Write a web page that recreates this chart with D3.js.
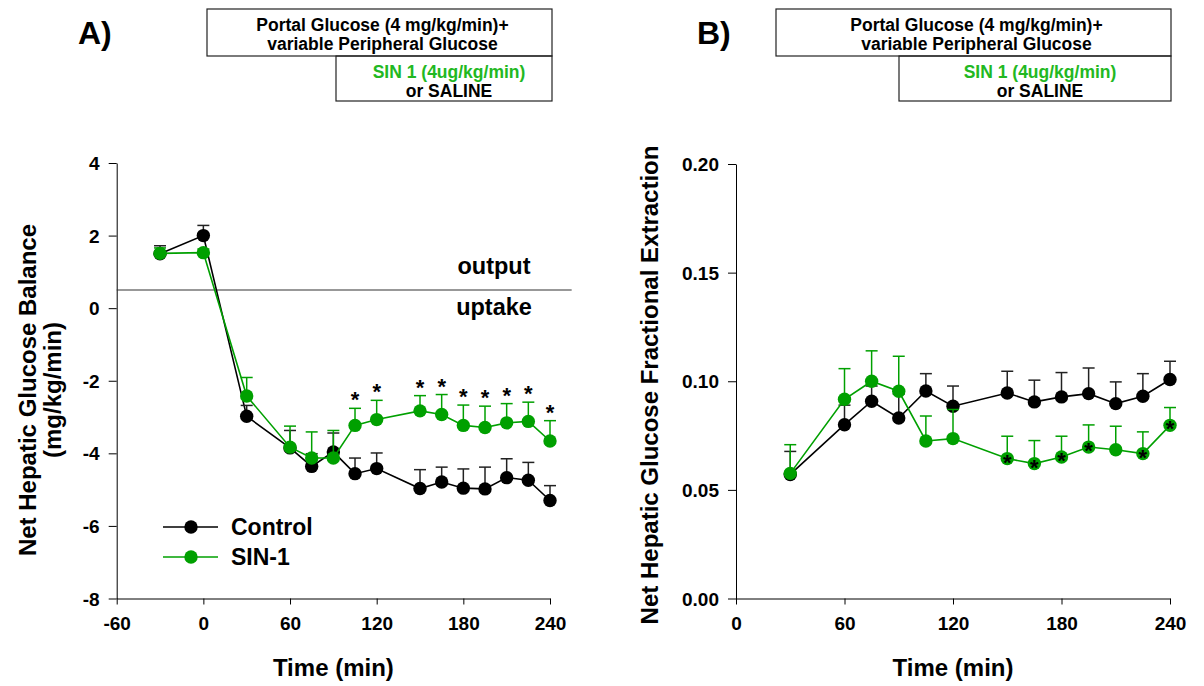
<!DOCTYPE html>
<html>
<head>
<meta charset="utf-8">
<script src="https://cdn.jsdelivr.net/npm/d3@7"></script>
<style>
  html, body { margin: 0; padding: 0; background: #fff; }
  svg { display: block; font-family: "Liberation Sans", Arial, Helvetica, sans-serif; }
  .tick text { font-size: 19px; font-weight: bold; fill: #000; font-family: "Liberation Sans", Arial, Helvetica, sans-serif; }
  .domain, .tick line { stroke: #000; stroke-width: 1; }
</style>
</head>
<body>
<svg id="chart" width="1204" height="686"></svg>
<script>
// Panel A: net hepatic glucose balance (mg/kg/min)
const timeA = [-30, 0, 30, 60, 75, 90, 105, 120, 150, 165, 180, 195, 210, 225, 240];
const controlA = [1.50, 2.00, -2.98, -3.85, -4.36, -3.96, -4.56, -4.42, -4.97, -4.79, -4.96, -4.98, -4.67, -4.74, -5.30];
const controlAErr = [0.22, 0.28, 0.30, 0.48, 0.35, 0.52, 0.43, 0.43, 0.52, 0.41, 0.53, 0.60, 0.52, 0.49, 0.41];
const sinA = [1.51, 1.53, -2.42, -3.83, -4.13, -4.13, -3.23, -3.07, -2.83, -2.93, -3.23, -3.29, -3.16, -3.12, -3.66];
const sinAErr = [0.15, 0.10, 0.51, 0.58, 0.72, 0.76, 0.47, 0.53, 0.42, 0.55, 0.56, 0.59, 0.53, 0.53, 0.56];
const sigA = [105, 120, 150, 165, 180, 195, 210, 225, 240];
const ticksAX = [-60, 0, 60, 120, 180, 240];
const ticksAY = [-8, -6, -4, -2, 0, 2, 4];
const balanceLine = 0.5;          // output / uptake divider
const balanceLineEnd = 255;       // time where the divider stops

// Panel B: net hepatic glucose fractional extraction
const timeB = [30, 60, 75, 90, 105, 120, 150, 165, 180, 195, 210, 225, 240];
const controlB = [0.0571, 0.0800, 0.0908, 0.0831, 0.0955, 0.0885, 0.0946, 0.0905, 0.0928, 0.0943, 0.0897, 0.0931, 0.1008];
const controlBErr = [0.0106, 0.0090, 0.0070, 0.0110, 0.0080, 0.0093, 0.0100, 0.0100, 0.0112, 0.0118, 0.0100, 0.0104, 0.0084];
const sinB = [0.0576, 0.0917, 0.1000, 0.0954, 0.0725, 0.0736, 0.0644, 0.0621, 0.0651, 0.0697, 0.0685, 0.0667, 0.0797];
const sinBErr = [0.0132, 0.0141, 0.0140, 0.0161, 0.0115, 0.0134, 0.0103, 0.0106, 0.0096, 0.0102, 0.0108, 0.0100, 0.0082];
const sigB = [150, 165, 180, 195, 225, 240];
const ticksBX = [0, 60, 120, 180, 240];
const ticksBY = [0, 0.05, 0.10, 0.15, 0.20];

const seriesNames = ["Control", "SIN-1"];
const BLACK = "#000";
const GREEN = "#00a000";
const TEXT_GREEN = "#22b822";
const TITLE_SIZE = 24;

const svg = d3.select("#chart");
const R = 6.7, CAP = 6;

// plain hyphen for negatives
const intFmt = d => String(d);
const decFmt = d => d.toFixed(2);

function drawSeries(g, x, y, times, vals, errs, color) {
  const pts = times.map((t, i) => ({ t, v: vals[i], e: errs[i] }));
  g.append("path")
    .datum(pts)
    .attr("fill", "none")
    .attr("stroke", color)
    .attr("stroke-width", 1.6)
    .attr("d", d3.line().x(d => x(d.t)).y(d => y(d.v)));
  const eb = g.append("g").attr("stroke", color === BLACK ? "#222" : color).attr("stroke-width", 1.5);
  eb.selectAll(".v").data(pts).join("line")
    .attr("x1", d => x(d.t)).attr("x2", d => x(d.t))
    .attr("y1", d => y(d.v)).attr("y2", d => y(d.v + d.e));
  eb.selectAll(".c").data(pts).join("line")
    .attr("x1", d => x(d.t) - CAP).attr("x2", d => x(d.t) + CAP)
    .attr("y1", d => y(d.v + d.e)).attr("y2", d => y(d.v + d.e));
  g.selectAll(null).data(pts).join("circle")
    .attr("cx", d => x(d.t)).attr("cy", d => y(d.v))
    .attr("r", R).attr("fill", color);
}

function drawAxes(x, y, xt, yt, yfmt) {
  const bottom = y.range()[0];
  svg.append("g")
    .attr("transform", `translate(0,${bottom})`)
    .call(d3.axisBottom(x).tickValues(xt).tickSize(6).tickSizeOuter(0).tickPadding(12).tickFormat(intFmt));
  svg.append("g")
    .attr("transform", `translate(${x.range()[0]},0)`)
    .call(d3.axisLeft(y).tickValues(yt).tickSize(8).tickSizeOuter(0).tickPadding(9).tickFormat(yfmt))
    .selectAll(".tick text").attr("dy", "0.35em");
}

function drawBoxes(topBox, lowBox) {
  svg.append("rect").attr("x", topBox[0]).attr("y", topBox[1])
    .attr("width", topBox[2] - topBox[0]).attr("height", topBox[3] - topBox[1])
    .attr("fill", "none").attr("stroke", "#222").attr("stroke-width", 1.2);
  svg.append("rect").attr("x", lowBox[0]).attr("y", lowBox[1])
    .attr("width", lowBox[2] - lowBox[0]).attr("height", lowBox[3] - lowBox[1])
    .attr("fill", "none").attr("stroke", "#222").attr("stroke-width", 1.2);
  const tc = (topBox[0] + topBox[2]) / 2 + 3;
  const lc = (lowBox[0] + lowBox[2]) / 2 + 5;
  const t = svg.append("g").attr("font-size", 17.5).attr("font-weight", "bold").attr("text-anchor", "middle");
  t.append("text").attr("x", tc).attr("y", topBox[1] + 22).text("Portal Glucose (4 mg/kg/min)+");
  t.append("text").attr("x", tc).attr("y", topBox[1] + 41).text("variable Peripheral Glucose");
  t.append("text").attr("x", lc).attr("y", lowBox[1] + 22).attr("fill", TEXT_GREEN).text("SIN 1 (4ug/kg/min)");
  t.append("text").attr("x", lc).attr("y", lowBox[1] + 41).text("or SALINE");
}

function stars(g, x, yPos, times) {
  g.selectAll(null).data(times).join("text")
    .attr("x", t => x(t)).attr("y", t => yPos(t))
    .attr("text-anchor", "middle").attr("font-size", 22).attr("font-weight", "bold")
    .text("*");
}

function title(x, y, rot, text) {
  svg.append("text")
    .attr("transform", `translate(${x},${y})` + (rot ? " rotate(-90)" : ""))
    .attr("text-anchor", "middle")
    .attr("font-size", TITLE_SIZE).attr("font-weight", "bold").text(text);
}

// ---------- Panel A ----------
const xA = d3.scaleLinear().domain([-60, 240]).range([116.7, 550]);
const yA = d3.scaleLinear().domain([-8, 4]).range([598.5, 163]);
drawAxes(xA, yA, ticksAX, ticksAY, intFmt);

svg.append("line")
  .attr("x1", xA(-60)).attr("x2", xA(balanceLineEnd))
  .attr("y1", yA(balanceLine)).attr("y2", yA(balanceLine))
  .attr("stroke", "#333").attr("stroke-width", 1.2);
svg.append("text").attr("x", 494).attr("y", yA(balanceLine) - 16).attr("text-anchor", "middle")
  .attr("font-size", 23.5).attr("font-weight", "bold").text("output");
svg.append("text").attr("x", 494).attr("y", yA(balanceLine) + 25).attr("text-anchor", "middle")
  .attr("font-size", 23.5).attr("font-weight", "bold").text("uptake");

const gA = svg.append("g");
drawSeries(gA, xA, yA, timeA, controlA, controlAErr, BLACK);
drawSeries(gA, xA, yA, timeA, sinA, sinAErr, GREEN);
stars(gA, xA, t => { const i = timeA.indexOf(t); return yA(sinA[i] + sinAErr[i]) - 1; }, sigA);

// legend
const leg = svg.append("g");
seriesNames.forEach((name, i) => {
  const yy = 527 + i * 30;
  const c = i === 0 ? BLACK : GREEN;
  leg.append("line").attr("x1", 163).attr("x2", 218).attr("y1", yy).attr("y2", yy)
    .attr("stroke", c).attr("stroke-width", 1.6);
  leg.append("circle").attr("cx", 191).attr("cy", yy).attr("r", R).attr("fill", c);
  leg.append("text").attr("x", 231).attr("y", yy + 8).attr("font-size", 23).attr("font-weight", "bold").text(name);
});

// axis titles A
title(36, 390, true, "Net Hepatic Glucose Balance");
title(61, 390, true, "(mg/kg/min)");
title((xA.range()[0] + xA.range()[1]) / 2, 676, false, "Time (min)");
svg.append("text").attr("x", 78).attr("y", 44).attr("font-size", 32).attr("font-weight", "bold").text("A)");
drawBoxes([207, 9, 552, 56], [336, 56, 552, 101]);

// ---------- Panel B ----------
const xB = d3.scaleLinear().domain([0, 240]).range([736, 1170]);
const yB = d3.scaleLinear().domain([0, 0.20]).range([598.5, 164]);
drawAxes(xB, yB, ticksBX, ticksBY, decFmt);

const gB = svg.append("g");
drawSeries(gB, xB, yB, timeB, controlB, controlBErr, BLACK);
drawSeries(gB, xB, yB, timeB, sinB, sinBErr, GREEN);
stars(gB, xB, t => yB(sinB[timeB.indexOf(t)]) + 11, sigB);

title(658, 385, true, "Net Hepatic Glucose Fractional Extraction");
title((xB.range()[0] + xB.range()[1]) / 2, 676, false, "Time (min)");
svg.append("text").attr("x", 697).attr("y", 44).attr("font-size", 32).attr("font-weight", "bold").text("B)");
drawBoxes([776, 9, 1171, 56], [899, 56, 1171, 101]);
</script>
</body>
</html>
